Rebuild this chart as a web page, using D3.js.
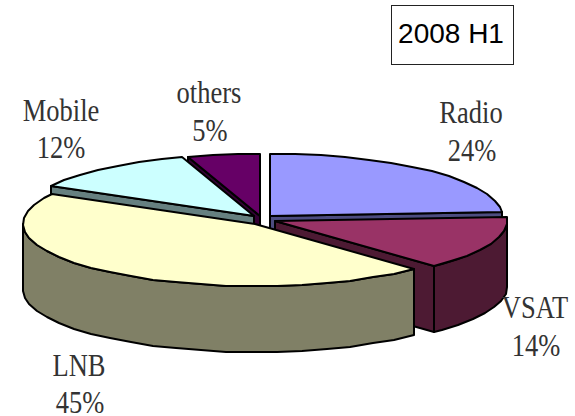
<!DOCTYPE html>
<html>
<head>
<meta charset="utf-8">
<script src="https://cdn.jsdelivr.net/npm/d3@7"></script>
<style>
  html, body { margin: 0; padding: 0; background: #fff; }
  svg { display: block; }
  .lbl { font-family: "Liberation Serif", serif; font-size: 26.5px; fill: #333; text-anchor: middle; }
</style>
</head>
<body>
<div id="chart"></div>
<script>
const title = "2008 H1";
const categories = ["Radio", "VSAT", "LNB", "Mobile", "others"];
const shares = [24, 14, 45, 12, 5];
const topColors = ["#9999ff", "#993366", "#ffffcc", "#ccffff", "#660066"];
const sideColors = ["#4d4d80", "#4d1a33", "#808066", "#668080", "#330033"];

// where each slice's apex ends up once exploded
const apexX = [270, 275, 255, 254, 260];
const apexY = [216, 221, 224, 216, 216];
// label anchors, name line and percent line
const nameX = [471, 535, 79, 61, 209];
const nameY = [123, 318, 376, 121, 103];
const pctX = [472, 536, 80, 61, 210];
const pctY = [161, 356, 413, 158, 141];

const width = 575, height = 416;
const rx = 232, ry = 62, depth = 66;

const svg = d3.select("#chart").append("svg")
    .attr("width", width)
    .attr("height", height);

// flattened unit circle, one scale per axis
const px = d3.scaleLinear().domain([-1, 1]).range([-rx, rx]);
const py = d3.scaleLinear().domain([-1, 1]).range([-ry, ry]);

const slices = d3.pie().sort(null).value(d => d)(shares);
const line = d3.line();

// the original outline is coarse, so sample in steps and snap to the pixel grid
function rim(i, a0, a1, dy) {
    const pts = d3.range(a0, a1, 0.11).concat([a1]);
    return pts.map(a => [
        Math.round(apexX[i] + px(Math.sin(a))),
        Math.round(apexY[i] + py(-Math.cos(a))) + dy
    ]);
}

function drawPoly(pts, fill) {
    svg.append("path")
        .attr("d", line(pts) + "Z")
        .attr("fill", fill)
        .attr("stroke", "#000")
        .attr("stroke-width", 2)
        .attr("stroke-linejoin", "round");
}

function cutFace(i, a) {
    const p = rim(i, a, a, 0)[0];
    drawPoly([[apexX[i], apexY[i]], p, [p[0], p[1] + depth], [apexX[i], apexY[i] + depth]], sideColors[i]);
}

// painter's order, back slices first
[4, 0, 3, 1, 2].forEach(i => {
    const s = slices[i];
    if (Math.sin(s.startAngle) < -1e-6) cutFace(i, s.startAngle);
    if (Math.sin(s.endAngle) > 1e-6) cutFace(i, s.endAngle);

    const from = Math.max(s.startAngle, Math.PI / 2);
    const to = Math.min(s.endAngle, Math.PI * 1.5);
    if (to > from) {
        const front = rim(i, from, to, 0);
        const back = rim(i, from, to, depth).reverse();
        drawPoly(front.concat(back), sideColors[i]);
    }
    drawPoly([[apexX[i], apexY[i]]].concat(rim(i, s.startAngle, s.endAngle, 0)), topColors[i]);
});

// the labels are tall and narrow in the original, so stretch them vertically
function label(x, y, str) {
    svg.append("text").attr("class", "lbl")
        .attr("transform", `translate(${x},${y}) scale(1,1.2)`)
        .text(str);
}

categories.forEach((c, i) => {
    label(nameX[i], nameY[i], c);
    label(pctX[i], pctY[i], shares[i] + "%");
});

svg.append("rect")
    .attr("x", 391.5).attr("y", 5.5)
    .attr("width", 122).attr("height", 59)
    .attr("fill", "#fff")
    .attr("stroke", "#222");

svg.append("text")
    .attr("x", 451).attr("y", 43)
    .attr("text-anchor", "middle")
    .attr("font-family", "Liberation Sans, Arial, sans-serif")
    .attr("font-size", 28)
    .attr("fill", "#000")
    .text(title);
</script>
</body>
</html>
